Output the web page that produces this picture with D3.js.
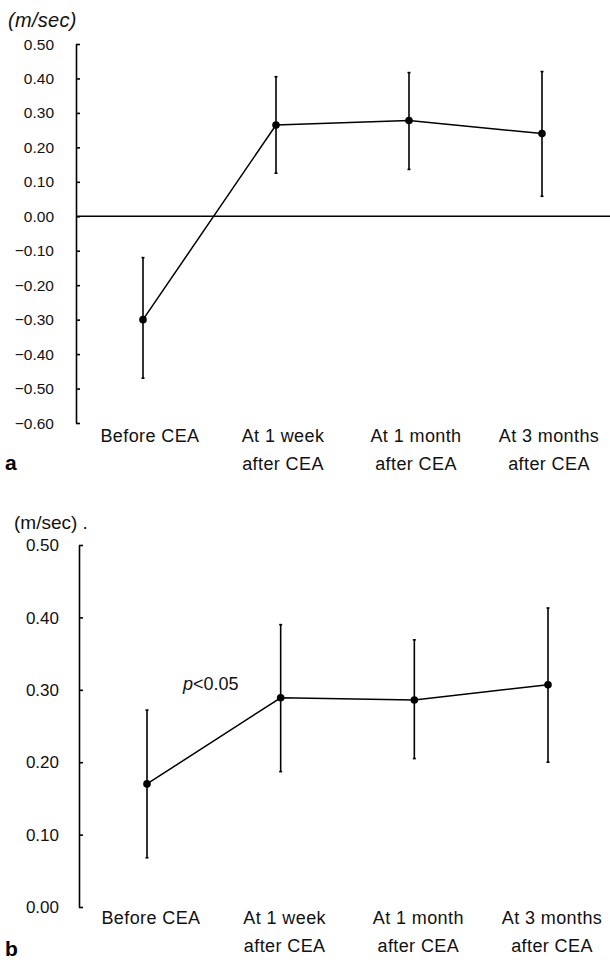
<!DOCTYPE html>
<html>
<head>
<meta charset="utf-8">
<script src="https://cdn.jsdelivr.net/npm/d3@7"></script>
<style>
    body { margin: 0; background: #fff; }
    svg { display: block; font-family: "Liberation Sans", Arial, sans-serif; }
</style>
</head>
<body>
<svg id="chart" width="610" height="960"></svg>
<script>
// categories (two-line labels)
var categories = ["Before CEA", "At 1 week after CEA", "At 1 month after CEA", "At 3 months after CEA"];
var catLines = [["Before CEA"], ["At 1 week", "after CEA"], ["At 1 month", "after CEA"], ["At 3 months", "after CEA"]];

// panel a
var aMean = [-0.30, 0.265, 0.278, 0.240];
var aUpper = [-0.12, 0.405, 0.417, 0.420];
var aLower = [-0.47, 0.125, 0.136, 0.058];
var aTicks = [0.5, 0.4, 0.3, 0.2, 0.1, 0, -0.1, -0.2, -0.3, -0.4, -0.5, -0.6];

// panel b
var bMean = [0.170, 0.289, 0.286, 0.307];
var bUpper = [0.272, 0.390, 0.369, 0.413];
var bLower = [0.068, 0.187, 0.205, 0.200];
var bTicks = [0.5, 0.4, 0.3, 0.2, 0.1, 0];

var svg = d3.select("#chart");

//画一个面板
function panelDraw(opt) {
    var g = svg.append("g");
    var x = d3.scalePoint().domain(categories).range(opt.xRange);
    var y = d3.scaleLinear().domain(opt.yDomain).range(opt.yRange);

    var data = categories.map(function (c, i) {
        return {cat: c, lines: catLines[i], m: opt.mean[i], hi: opt.upper[i], lo: opt.lower[i]};
    });

    // y axis, ticks pointing inward
    var axis = d3.axisRight(y)
        .tickValues(opt.ticks)
        .tickSize(4)
        .tickSizeOuter(0)
        .tickFormat("");
    var ag = g.append("g")
        .attr("transform", `translate(${opt.axisX},0)`)
        .call(axis);
    ag.select(".domain").attr("stroke", "#000").attr("stroke-width", 1.6);
    ag.selectAll(".tick line").attr("stroke", "#000").attr("stroke-width", 1.6);

    g.append("g")
        .selectAll("text")
        .data(opt.ticks)
        .join("text")
        .attr("x", opt.labelX)
        .attr("y", d => y(d))
        .attr("dy", "0.36em")
        .attr("text-anchor", "end")
        .attr("font-size", opt.tickFont)
        .attr("fill", "#111")
        .text(d => (d < 0 ? "\u2212" : "") + Math.abs(d).toFixed(2));

    if (opt.zeroLine) {
        g.append("line")
            .attr("x1", opt.axisX)
            .attr("x2", 610)
            .attr("y1", y(0))
            .attr("y2", y(0))
            .attr("stroke", "#000")
            .attr("stroke-width", 1.4);
    }

    // error bars
    var eb = g.append("g").selectAll("g").data(data).join("g");
    eb.append("line")
        .attr("x1", d => x(d.cat)).attr("x2", d => x(d.cat))
        .attr("y1", d => y(d.hi)).attr("y2", d => y(d.lo))
        .attr("stroke", "#000").attr("stroke-width", 1.6);
    eb.append("line")
        .attr("x1", d => x(d.cat) - 1.5).attr("x2", d => x(d.cat) + 1.5)
        .attr("y1", d => y(d.hi)).attr("y2", d => y(d.hi))
        .attr("stroke", "#000").attr("stroke-width", 1.6);
    eb.append("line")
        .attr("x1", d => x(d.cat) - 1.5).attr("x2", d => x(d.cat) + 1.5)
        .attr("y1", d => y(d.lo)).attr("y2", d => y(d.lo))
        .attr("stroke", "#000").attr("stroke-width", 1.6);

    // mean line
    g.append("path")
        .datum(data)
        .attr("fill", "none")
        .attr("stroke", "#000")
        .attr("stroke-width", 1.5)
        .attr("d", d3.line().x(d => x(d.cat)).y(d => y(d.m)));

    g.append("g")
        .selectAll("circle")
        .data(data)
        .join("circle")
        .attr("cx", d => x(d.cat))
        .attr("cy", d => y(d.m))
        .attr("r", 3.8)
        .attr("fill", "#000");

    // category labels
    var lab = g.append("g")
        .selectAll("text")
        .data(data)
        .join("text")
        .attr("x", d => x(d.cat) + opt.labelShift)
        .attr("y", opt.labelY)
        .attr("text-anchor", "middle")
        .attr("font-size", 18)
        .attr("letter-spacing", 0.4)
        .attr("fill", "#111");
    lab.selectAll("tspan")
        .data(d => d.lines)
        .join("tspan")
        .attr("x", function () { return d3.select(this.parentNode).attr("x"); })
        .attr("dy", (d, i) => i === 0 ? 0 : 28)
        .text(d => d);

    return {g: g, x: x, y: y};
}

var pa = panelDraw({
    xRange: [143, 542], yDomain: [-0.6, 0.5], yRange: [423, 44],
    mean: aMean, upper: aUpper, lower: aLower, ticks: aTicks,
    axisX: 76, labelX: 54, tickFont: 15.5, zeroLine: true,
    labelY: 442, labelShift: 7
});

var pb = panelDraw({
    xRange: [147, 548], yDomain: [0, 0.5], yRange: [907, 545],
    mean: bMean, upper: bUpper, lower: bLower, ticks: bTicks,
    axisX: 79, labelX: 59, tickFont: 17, zeroLine: false,
    labelY: 924, labelShift: 4
});

// units
svg.append("text")
    .attr("x", 8).attr("y", 27)
    .attr("font-size", 20)
    .attr("font-style", "italic")
    .attr("letter-spacing", 0.3)
    .attr("fill", "#111")
    .text("(m/sec)");

svg.append("text")
    .attr("x", 14).attr("y", 529)
    .attr("font-size", 19)
    .attr("fill", "#111")
    .text("(m/sec) .");

// significance
var sig = svg.append("text")
    .attr("x", 183).attr("y", 690)
    .attr("font-size", 18)
    .attr("fill", "#111");
sig.append("tspan").attr("font-style", "italic").text("p");
sig.append("tspan").text("<0.05");

// panel letters
svg.append("text")
    .attr("x", 5).attr("y", 470)
    .attr("font-size", 21).attr("font-weight", "bold")
    .text("a");
svg.append("text")
    .attr("x", 5).attr("y", 956)
    .attr("font-size", 21).attr("font-weight", "bold")
    .text("b");
</script>
</body>
</html>
